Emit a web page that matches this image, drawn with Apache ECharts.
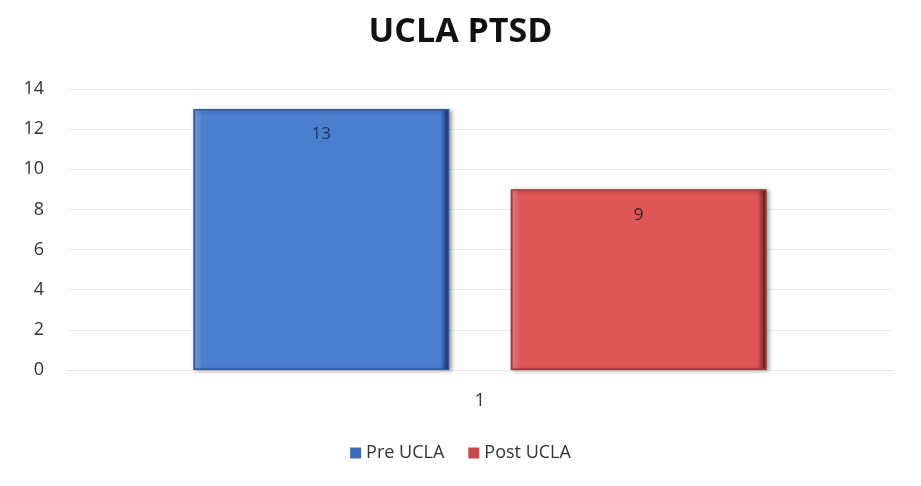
<!DOCTYPE html>
<html>
<head>
<meta charset="utf-8">
<script src="https://cdn.jsdelivr.net/npm/echarts@6/dist/echarts.min.js"></script>
<style>
  html, body { margin: 0; padding: 0; background: #fff; }
  #chart { width: 921px; height: 486px; }
</style>
</head>
<body>
<div id="chart"></div>
<script>
// Chart data
const categories = ['1'];
const seriesNames = ['Pre UCLA', 'Post UCLA'];
const preValues = [13];
const postValues = [9];
const yTicks = { min: 0, max: 14, interval: 2 };

const font = '"Open Sans", "Noto Sans", sans-serif';

// Mostly flat fill with a thin light left edge and a dark right edge (bevel look)
function bevelFill(light, mid, dark) {
  return new echarts.graphic.LinearGradient(0, 0, 1, 0, [
    { offset: 0, color: dark },
    { offset: 0.01, color: light },
    { offset: 0.035, color: mid },
    { offset: 0.965, color: mid },
    { offset: 0.99, color: dark },
    { offset: 1, color: dark }
  ]);
}

const chart = echarts.init(document.getElementById('chart'), null, { renderer: 'canvas' });

chart.setOption({
  backgroundColor: '#ffffff',
  animation: false,
  title: {
    text: 'UCLA PTSD',
    left: 'center',
    top: 10,
    textStyle: { fontFamily: font, fontSize: 34, fontWeight: 'bold', color: '#111111' }
  },
  legend: {
    bottom: 19,
    left: 'center',
    icon: 'rect',
    itemWidth: 11,
    itemHeight: 11,
    itemGap: 24,
    textStyle: { fontFamily: font, fontSize: 18, color: '#333333' },
    itemStyle: { borderWidth: 0, shadowBlur: 0, shadowOffsetX: 0, shadowOffsetY: 0 },
    data: [
      { name: seriesNames[0], itemStyle: { color: '#3e6cb8' } },
      { name: seriesNames[1], itemStyle: { color: '#c94848' } }
    ]
  },
  grid: { left: 66, right: 27, top: 89, bottom: 116 },
  xAxis: {
    type: 'category',
    data: categories,
    axisLine: { show: true, lineStyle: { color: '#e6e6e6' } },
    axisTick: { show: false },
    axisLabel: { fontFamily: font, fontSize: 18, color: '#333333', margin: 22 }
  },
  yAxis: {
    type: 'value',
    min: yTicks.min,
    max: yTicks.max,
    interval: yTicks.interval,
    axisLine: { show: false },
    axisTick: { show: false },
    axisLabel: { fontFamily: font, fontSize: 18, color: '#333333', margin: 22 },
    splitLine: { lineStyle: { color: '#ececec', width: 1 } }
  },
  series: [
    {
      name: seriesNames[0],
      type: 'bar',
      data: preValues,
      barWidth: 256,
      barGap: '24%',
      itemStyle: {
        color: bevelFill('#7aa3e4', '#4a7fd0', '#23407a'),
        borderColor: '#34589a',
        borderWidth: 1.5,
        shadowColor: 'rgba(0,0,0,0.35)',
        shadowBlur: 4,
        shadowOffsetX: 2,
        shadowOffsetY: 1
      },
      label: {
        show: true,
        position: 'insideTop',
        distance: 17,
        fontFamily: font,
        fontSize: 17,
        color: '#1f3560'
      }
    },
    {
      name: seriesNames[1],
      type: 'bar',
      data: postValues,
      barWidth: 256,
      barGap: '24%',
      itemStyle: {
        color: bevelFill('#ee8280', '#e05656', '#7a2525'),
        borderColor: '#9a3636',
        borderWidth: 1.5,
        shadowColor: 'rgba(0,0,0,0.35)',
        shadowBlur: 4,
        shadowOffsetX: 2,
        shadowOffsetY: 1
      },
      label: {
        show: true,
        position: 'insideTop',
        distance: 17,
        fontFamily: font,
        fontSize: 17,
        color: '#3a2020'
      }
    }
  ]
});
</script>
</body>
</html>
